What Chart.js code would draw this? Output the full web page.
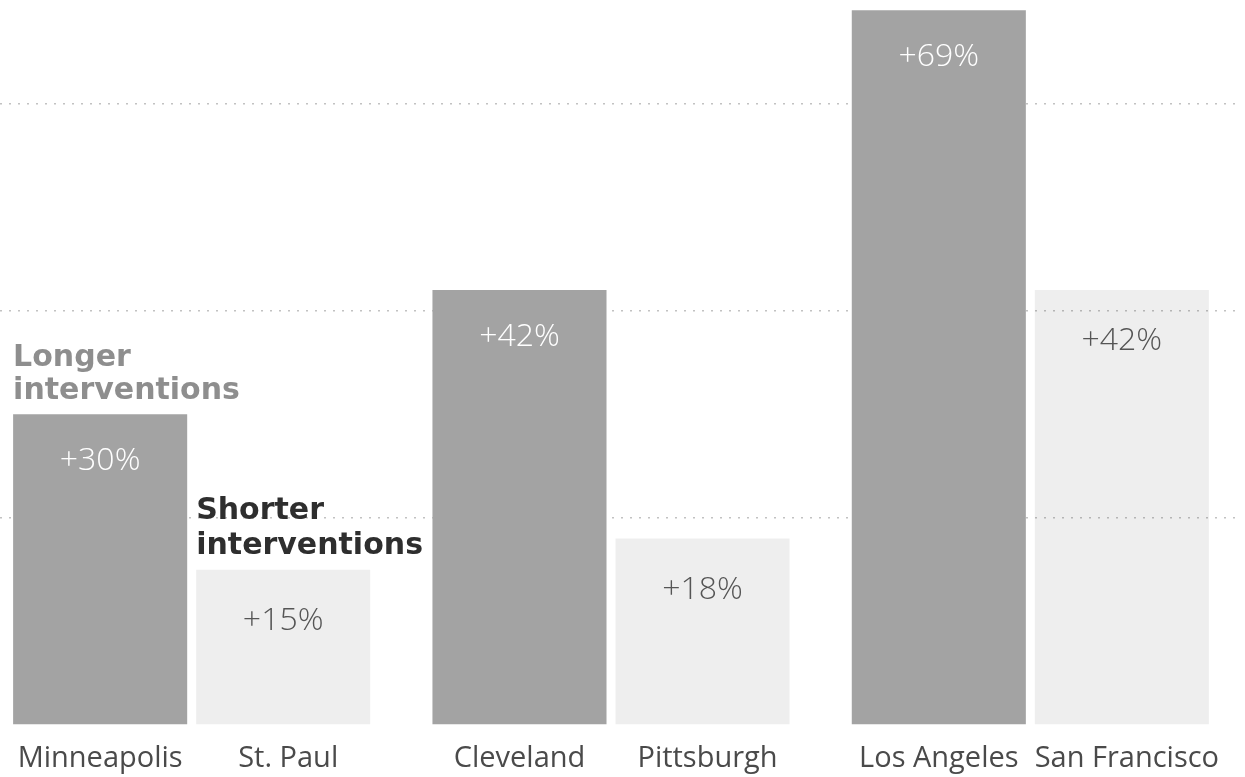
<!DOCTYPE html>
<html>
<head>
<meta charset="utf-8">
<script src="https://cdn.jsdelivr.net/npm/chart.js@4"></script>
<style>
  html, body { margin: 0; padding: 0; background: #ffffff; overflow: hidden; }
  #wrap { position: absolute; left: -18px; top: 0; width: 1258px; height: 777px; }
</style>
</head>
<body>
<div id="wrap"><canvas id="chart"></canvas></div>
<script>
// city pairs, one group per pair
var groups = ["Minneapolis / St. Paul", "Cleveland / Pittsburgh", "Los Angeles / San Francisco"];
var longerCities = ["Minneapolis", "Cleveland", "Los Angeles"];
var shorterCities = ["St. Paul", "Pittsburgh", "San Francisco"];
var longerValues = [30, 42, 69];
var shorterValues = [15, 18, 42];
var gridTicks = [20, 40, 60];

var darkGray = "#a3a3a3";
var lightGray = "rgba(0, 0, 0, 0.065)";
var valueFont = "300 32px 'Open Sans', sans-serif";
var cityFont = "29px 'Open Sans', sans-serif";

var labelsPlugin = {
  id: "barLabels",
  afterDatasetsDraw: function (chart) {
    var ctx = chart.ctx;
    var longMeta = chart.getDatasetMeta(0);
    var shortMeta = chart.getDatasetMeta(1);
    ctx.save();
    ctx.textAlign = "center";
    ctx.textBaseline = "alphabetic";

    for (var i = 0; i < longMeta.data.length; i++) {
      var b = longMeta.data[i];
      ctx.font = valueFont;
      ctx.fillStyle = "#ffffff";
      ctx.fillText("+" + longerValues[i] + "%", b.x, b.y + 56);
      ctx.font = cityFont;
      ctx.fillStyle = "#4a4a4a";
      ctx.fillText(longerCities[i], b.x, b.base + 43);
    }
    for (var j = 0; j < shortMeta.data.length; j++) {
      var s = shortMeta.data[j];
      ctx.font = valueFont;
      ctx.fillStyle = "#555555";
      ctx.fillText("+" + shorterValues[j] + "%", s.x, s.y + 60);
      ctx.font = cityFont;
      ctx.fillStyle = "#4a4a4a";
      ctx.fillText(shorterCities[j], s.x + 5, s.base + 43);
    }

    // series names sit above the first pair
    ctx.textAlign = "left";
    ctx.font = "bold 30px 'DejaVu Sans', sans-serif";
    var first = longMeta.data[0];
    ctx.fillStyle = "#8e8e8e";
    ctx.fillText("Longer", first.x - first.width / 2, first.y - 48);
    ctx.fillText("interventions", first.x - first.width / 2, first.y - 15);
    var second = shortMeta.data[0];
    ctx.fillStyle = "#2e2e2e";
    ctx.fillText("Shorter", second.x - second.width / 2, second.y - 51);
    ctx.fillText("interventions", second.x - second.width / 2, second.y - 16);
    ctx.restore();
  }
};

var chart = new Chart(document.getElementById("chart"), {
  type: "bar",
  data: {
    labels: groups,
    datasets: [
      { label: "Longer interventions", data: longerValues, backgroundColor: darkGray },
      { label: "Shorter interventions", data: shorterValues, backgroundColor: lightGray }
    ]
  },
  options: {
    responsive: true,
    maintainAspectRatio: false,
    animation: false,
    categoryPercentage: 0.873,
    barPercentage: 0.951,
    layout: { padding: { top: 0, bottom: 52, left: 0, right: 0 } },
    plugins: { legend: { display: false }, tooltip: { enabled: false } },
    scales: {
      x: {
        display: false,
        offset: true
      },
      y: {
        min: 0,
        max: 70,
        ticks: { display: false, stepSize: 20 },
        border: { display: false, dash: [2, 7] },
        grid: {
          drawTicks: false,
          lineWidth: 1.5,
          color: function (c) {
            return gridTicks.indexOf(c.tick.value) >= 0 ? "#c2c2c2" : "rgba(0,0,0,0)";
          }
        },
        afterFit: function (scale) { scale.width = 0; }
      }
    }
  },
  plugins: [labelsPlugin]
});
</script>
</body>
</html>
